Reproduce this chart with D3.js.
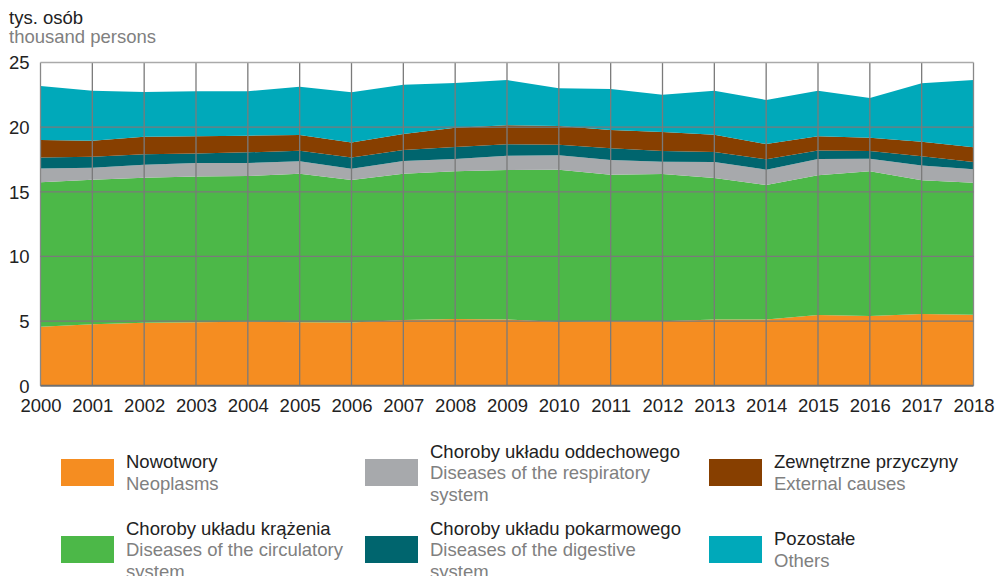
<!DOCTYPE html>
<html><head><meta charset="utf-8">
<script src="https://cdn.jsdelivr.net/npm/d3@7"></script>
<style>body{margin:0;background:#fff}svg{display:block;font-family:"Liberation Sans",Arial,sans-serif}</style>
</head><body><svg id="c" width="999" height="576"></svg>
<script>
const years = [2000,2001,2002,2003,2004,2005,2006,2007,2008,2009,2010,2011,2012,2013,2014,2015,2016,2017,2018];
const neoplasms   = [4.56,4.75,4.87,4.90,4.95,4.90,4.88,5.08,5.16,5.13,4.93,4.98,4.98,5.13,5.13,5.47,5.39,5.55,5.49];
const circulatory = [11.17,11.18,11.22,11.29,11.27,11.50,11.03,11.32,11.42,11.55,11.78,11.34,11.39,10.93,10.39,10.80,11.19,10.34,10.21];
const respiratory = [1.08,0.93,1.00,1.03,1.00,0.96,0.87,0.98,0.95,1.11,1.11,1.14,0.95,1.24,1.19,1.26,0.98,1.15,1.04];
const digestive   = [0.85,0.85,0.81,0.75,0.83,0.82,0.88,0.85,0.93,0.88,0.82,0.90,0.83,0.77,0.80,0.67,0.59,0.70,0.56];
const external    = [1.34,1.24,1.36,1.32,1.29,1.21,1.16,1.24,1.49,1.47,1.45,1.42,1.47,1.34,1.18,1.09,1.03,1.13,1.14];
const others      = [4.18,3.87,3.45,3.48,3.43,3.73,3.87,3.81,3.46,3.50,2.91,3.17,2.89,3.41,3.41,3.53,3.07,4.52,5.20];
const yTicks = [0,5,10,15,20,25];
const seriesKeys = ["neo","circ","resp","dig","ext","oth"];
const seriesPl = ["Nowotwory","Choroby układu krążenia","Choroby układu oddechowego","Choroby układu pokarmowego","Zewnętrzne przyczyny","Pozostałe"];
const seriesEn = [["Neoplasms"],["Diseases of the circulatory","system"],["Diseases of the respiratory","system"],["Diseases of the digestive","system"],["External causes"],["Others"]];
const colors = ["#F58D21","#4CB848","#A7A9AC","#00656E","#873F00","#00A9BA"];

const FS = 18.5;
const rows = years.map((y,i)=>({year:y,neo:neoplasms[i],circ:circulatory[i],resp:respiratory[i],dig:digestive[i],ext:external[i],oth:others[i]}));
const svg = d3.select("#c");
const x = d3.scaleLinear().domain([2000,2018]).range([40.5,973.5]);
const y = d3.scaleLinear().domain([0,25]).range([385.7,62.5]);
const stack = d3.stack().keys(seriesKeys)(rows);
const area = d3.area().x(d=>x(d.data.year)).y0(d=>y(d[0])).y1(d=>y(d[1]));
svg.append("g").selectAll("path").data(stack).join("path")
  .attr("d",area).attr("fill",(d,i)=>colors[i]);

// grid
const g = svg.append("g");
g.selectAll("line.v").data(years).join("line")
  .attr("x1",d=>x(d)).attr("x2",d=>x(d)).attr("y1",y(25)).attr("y2",y(0))
  .attr("stroke",d=>(d===2000||d===2018)?"#888":"#7a7a7a").attr("stroke-width",1.3);
g.selectAll("line.h").data(yTicks.filter(t=>t>0)).join("line")
  .attr("x1",x(2000)).attr("x2",x(2018)).attr("y1",d=>y(d)).attr("y2",d=>y(d))
  .attr("stroke",d=>d===25?"#aaa":"#7a7a7a").attr("stroke-width",1.3);
g.append("line").attr("x1",x(2000)).attr("x2",x(2018)).attr("y1",y(0)).attr("y2",y(0))
  .attr("stroke","#707070").attr("stroke-width",2);

// axes text
const yAxis = d3.axisLeft(y).tickValues(yTicks).tickSize(0).tickPadding(11);
const ya = svg.append("g").attr("transform",`translate(${x(2000)},0)`).call(yAxis);
ya.select(".domain").remove();
ya.selectAll("text").attr("font-size",FS).attr("fill","#222").attr("font-family","Liberation Sans, Arial, sans-serif").attr("dy","0.35em");
const xAxis = d3.axisBottom(x).tickValues(years).tickFormat(d3.format("d")).tickSize(0).tickPadding(13);
const xa = svg.append("g").attr("transform",`translate(0,${y(0)})`).call(xAxis);
xa.select(".domain").remove();
xa.selectAll("text").attr("font-size",FS).attr("fill","#222").attr("font-family","Liberation Sans, Arial, sans-serif");

svg.append("text").attr("x",9).attr("y",24).attr("font-size",FS).attr("fill","#222").text("tys. osób");
svg.append("text").attr("x",9).attr("y",42.5).attr("font-size",FS).attr("fill","#808080").text("thousand persons");

// legend
const legPos = [[61,459],[61,536],[365,459],[365,536],[709,459],[709,536]];
const lg = svg.append("g");
seriesKeys.forEach((k,i)=>{
  const [lx,ly] = legPos[i];
  lg.append("rect").attr("x",lx).attr("y",ly).attr("width",53).attr("height",27).attr("fill",colors[i]);
  const lines = [seriesPl[i], ...seriesEn[i]];
  const lh = 21.5;
  const cy = ly + 13.5;
  const first = cy - (lines.length-1)*lh/2 + 6.5;
  lines.forEach((t,j)=>{
    lg.append("text").attr("x",lx+65).attr("y",first+j*lh).attr("font-size",FS)
      .attr("fill",j===0?"#222":"#808080").text(t);
  });
});
</script></body></html>
